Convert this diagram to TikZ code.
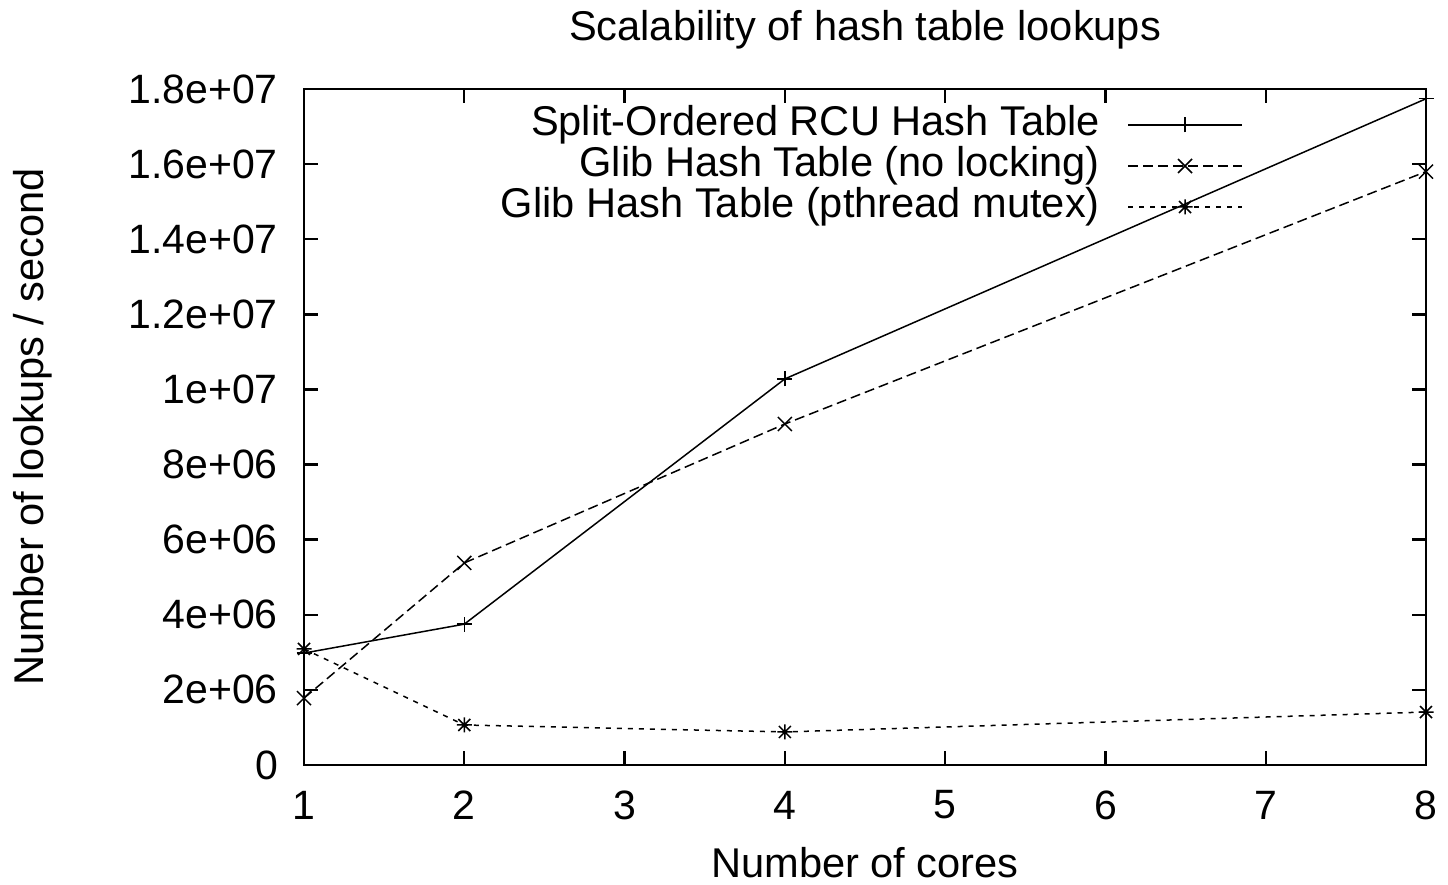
\documentclass[tikz,border=0pt]{standalone}
\usepackage{fontspec}
\setmainfont{Liberation Sans}
\begin{document}
\begin{tikzpicture}[x=1pt,y=1pt,
  lbl/.style={font=\fontsize{41.6}{50}\selectfont, inner sep=0pt},
  tlbl/.style={font=\fontsize{41}{49}\selectfont, inner sep=0pt},
  frame/.style={line width=2.4pt},
  tickm/.style={line width=2.4pt},
  sline/.style={line width=1.5pt},
  nline/.style={line width=1.5pt, dash pattern=on 10pt off 5pt},
  pline/.style={line width=1.5pt, dash pattern=on 5pt off 6pt},
  mk/.style={line width=1.5pt},
  plusm/.pic={\draw[mk] (-7.5pt,0pt)--(7.5pt,0pt) (0pt,-7.5pt)--(0pt,7.5pt);},
  crossm/.pic={\draw[mk] (-7pt,-7pt)--(7pt,7pt) (-7pt,7pt)--(7pt,-7pt);},
  starm/.pic={\draw[mk] (-7.5pt,0pt)--(7.5pt,0pt) (0pt,-7.5pt)--(0pt,7.5pt) (-6pt,-6pt)--(6pt,6pt) (-6pt,6pt)--(6pt,-6pt);}
]
\useasboundingbox (0,0) rectangle (1448,885);
% title and axis labels
\node[lbl] (title) at (865,855) {Scalability of hash table lookups};
\node[lbl] (xlabel) at (865,22) {Number of cores};
\node[lbl, rotate=90] (ylabel) at (33,458) {Number of lookups / second};

\begin{scope}[shift={(304,120)}, x=160.2857pt, y=37.5556pt]
  % frame
  \coordinate (bl) at (0,0);
  \coordinate (tr) at (7,18);
  \draw[frame] (bl) rectangle (tr);
  % y ticks
  \foreach \v/\t in {0/0,2/2e+06,4/4e+06,6/6e+06,8/8e+06,10/1e+07,12/1.2e+07,14/1.4e+07,16/1.6e+07,18/1.8e+07}{
    \coordinate (yl\v) at (0,\v);
    \coordinate (yr\v) at (7,\v);
    \draw[tickm] (yl\v) -- ++(14pt,0pt);
    \draw[tickm] (yr\v) -- ++(-14pt,0pt);
    \node[tlbl, anchor=east] (ytl\v) at ([xshift=-26pt]yl\v) {\t};
  }
  % x ticks
  \foreach \c in {1,...,8}{
    \coordinate (xb\c) at (\c-1,0);
    \coordinate (xt\c) at (\c-1,18);
    \draw[tickm] (xb\c) -- ++(0pt,14pt);
    \draw[tickm] (xt\c) -- ++(0pt,-14pt);
    \node[tlbl] (xtl\c) at ([yshift=-40pt]xb\c) {\c};
  }
  % data
  \coordinate (s1) at (0,2.98);
  \coordinate (s2) at (1,3.75);
  \coordinate (s4) at (3,10.28);
  \coordinate (s8) at (7,17.74);
  \coordinate (n1) at (0,1.78);
  \coordinate (n2) at (1,5.38);
  \coordinate (n4) at (3,9.08);
  \coordinate (n8) at (7,15.8);
  \coordinate (p1) at (0,3.09);
  \coordinate (p2) at (1,1.065);
  \coordinate (p4) at (3,0.88);
  \coordinate (p8) at (7,1.41);
  \draw[sline] (s1) -- (s2) -- (s4) -- (s8);
  \draw[nline] (n1) -- (n2) -- (n4) -- (n8);
  \draw[pline] (p1) -- (p2) -- (p4) -- (p8);
  \foreach \c in {1,2,4,8}{
    \pic at (s\c) {plusm};
    \pic at (n\c) {crossm};
    \pic at (p\c) {starm};
  }
\end{scope}

% legend
\node[lbl, anchor=east] (leg1) at (1100,760) {Split-Ordered RCU Hash Table};
\node[lbl, anchor=east] (leg2) at (1100,719) {Glib Hash Table (no locking)};
\node[lbl, anchor=east] (leg3) at (1100,678) {Glib Hash Table (pthread mutex)};
\coordinate (l1a) at (1128,760); \coordinate (l1b) at (1242,760); \coordinate (l1m) at (1185,760);
\coordinate (l2a) at (1128,719); \coordinate (l2b) at (1242,719); \coordinate (l2m) at (1185,719);
\coordinate (l3a) at (1128,678); \coordinate (l3b) at (1242,678); \coordinate (l3m) at (1185,678);
\draw[sline] (l1a) -- (l1b);
\draw[nline] (l2a) -- (l2b);
\draw[pline] (l3a) -- (l3b);
\pic at (l1m) {plusm};
\pic at (l2m) {crossm};
\pic at (l3m) {starm};
\end{tikzpicture}
\end{document}
